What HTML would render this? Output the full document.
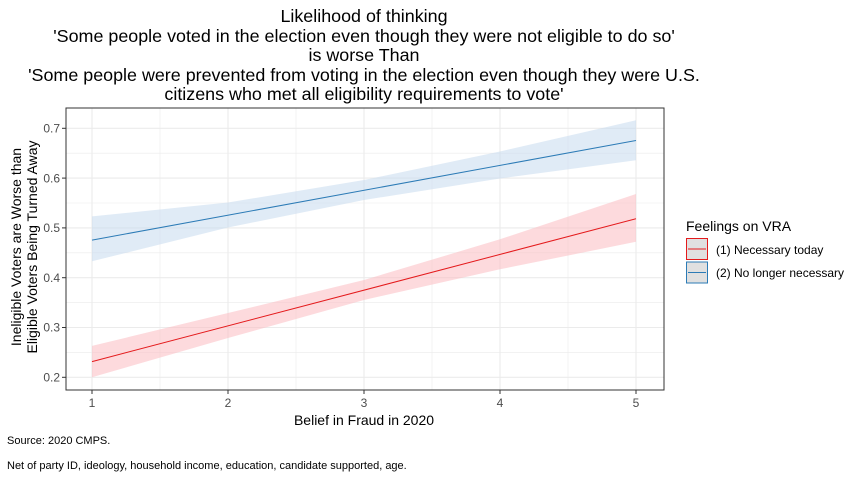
<!DOCTYPE html>
<html><head><style>
body{margin:0;background:#fff;}
svg text{font-family:"Liberation Sans",Arial,sans-serif;}
</style></head><body>
<svg width="863" height="478" xmlns="http://www.w3.org/2000/svg">
<rect width="863" height="478" fill="#fff"/>
<g font-size="17.9" text-anchor="middle" fill="#000">
<text x="364" y="22">Likelihood of thinking</text>
<text x="364" y="42">'Some people voted in the election even though they were not eligible to do so'</text>
<text x="364" y="61">is worse Than</text>
<text x="364" y="81">'Some people were prevented from voting in the election even though they were U.S.</text>
<text x="364" y="100">citizens who met all eligibility requirements to vote'</text>
</g>
<g stroke="#ebebeb" stroke-width="0.6">
<line x1="66" x2="664" y1="153.2" y2="153.2"/><line x1="66" x2="664" y1="203" y2="203"/><line x1="66" x2="664" y1="252.8" y2="252.8"/><line x1="66" x2="664" y1="302.6" y2="302.6"/><line x1="66" x2="664" y1="352.4" y2="352.4"/>
<line x1="160" x2="160" y1="108" y2="390"/><line x1="296" x2="296" y1="108" y2="390"/><line x1="432" x2="432" y1="108" y2="390"/><line x1="568" x2="568" y1="108" y2="390"/>
</g>
<g stroke="#ebebeb" stroke-width="1.1">
<line x1="66" x2="664" y1="128.3" y2="128.3"/><line x1="66" x2="664" y1="178.1" y2="178.1"/><line x1="66" x2="664" y1="227.9" y2="227.9"/><line x1="66" x2="664" y1="277.7" y2="277.7"/><line x1="66" x2="664" y1="327.5" y2="327.5"/><line x1="66" x2="664" y1="377.3" y2="377.3"/>
<line x1="92" x2="92" y1="108" y2="390"/><line x1="228" x2="228" y1="108" y2="390"/><line x1="364" x2="364" y1="108" y2="390"/><line x1="500" x2="500" y1="108" y2="390"/><line x1="636" x2="636" y1="108" y2="390"/>
</g>
<polygon fill="#c6dbef" fill-opacity="0.55" points="92,216.4 228,202.5 364,180 500,151.5 636,120.3 636,160.2 500,178.5 364,200 228,227.5 92,261.3"/>
<polygon fill="#fcbbc1" fill-opacity="0.55" points="92,345.9 228,313 364,280 500,239.3 636,194 636,241.8 500,269.3 364,300 228,338 92,377.3"/>
<line x1="92" y1="240.1" x2="636" y2="140.5" stroke="#2c7bb6" stroke-width="1"/>
<line x1="92" y1="361.6" x2="636" y2="218.7" stroke="#e41a1c" stroke-width="1"/>
<rect x="66" y="108" width="598" height="282" fill="none" stroke="#333" stroke-width="1"/>
<g font-size="12" fill="#4d4d4d" text-anchor="end">
<text x="60" y="132.5">0.7</text><text x="60" y="182.3">0.6</text><text x="60" y="232.1">0.5</text><text x="60" y="281.9">0.4</text><text x="60" y="331.7">0.3</text><text x="60" y="381.5">0.2</text>
</g>
<g stroke="#333"><line x1="62" x2="66" y1="128.3" y2="128.3"/><line x1="62" x2="66" y1="178.1" y2="178.1"/><line x1="62" x2="66" y1="227.9" y2="227.9"/><line x1="62" x2="66" y1="277.7" y2="277.7"/><line x1="62" x2="66" y1="327.5" y2="327.5"/><line x1="62" x2="66" y1="377.3" y2="377.3"/>
<line x1="92" x2="92" y1="390" y2="394"/><line x1="228" x2="228" y1="390" y2="394"/><line x1="364" x2="364" y1="390" y2="394"/><line x1="500" x2="500" y1="390" y2="394"/><line x1="636" x2="636" y1="390" y2="394"/></g>
<g font-size="12" fill="#4d4d4d" text-anchor="middle">
<text x="92" y="407">1</text><text x="228" y="407">2</text><text x="364" y="407">3</text><text x="500" y="407">4</text><text x="636" y="407">5</text>
</g>
<text x="364" y="425" font-size="14" text-anchor="middle">Belief in Fraud in 2020</text>
<g font-size="14" text-anchor="middle">
<text transform="translate(21,247) rotate(-90)">Ineligible Voters are Worse than</text>
<text transform="translate(37,247) rotate(-90)">Eligible Voters Being Turned Away</text>
</g>
<text x="686" y="231" font-size="14">Feelings on VRA</text>
<rect x="686.5" y="238.5" width="21" height="21" fill="#e0e0e0" stroke="#e41a1c"/>
<line x1="688" x2="706" y1="249" y2="249" stroke="#e41a1c"/>
<rect x="686.5" y="262" width="21" height="21" fill="#e0e0e0" stroke="#2c7bb6"/>
<line x1="688" x2="706" y1="272.5" y2="272.5" stroke="#2c7bb6"/>
<text x="716" y="254" font-size="12">(1) Necessary today</text>
<text x="716" y="277" font-size="12">(2) No longer necessary</text>
<text x="7" y="444" font-size="11">Source: 2020 CMPS.</text>
<text x="7" y="469" font-size="11">Net of party ID, ideology, household income, education, candidate supported, age.</text>
</svg>
</body></html>
